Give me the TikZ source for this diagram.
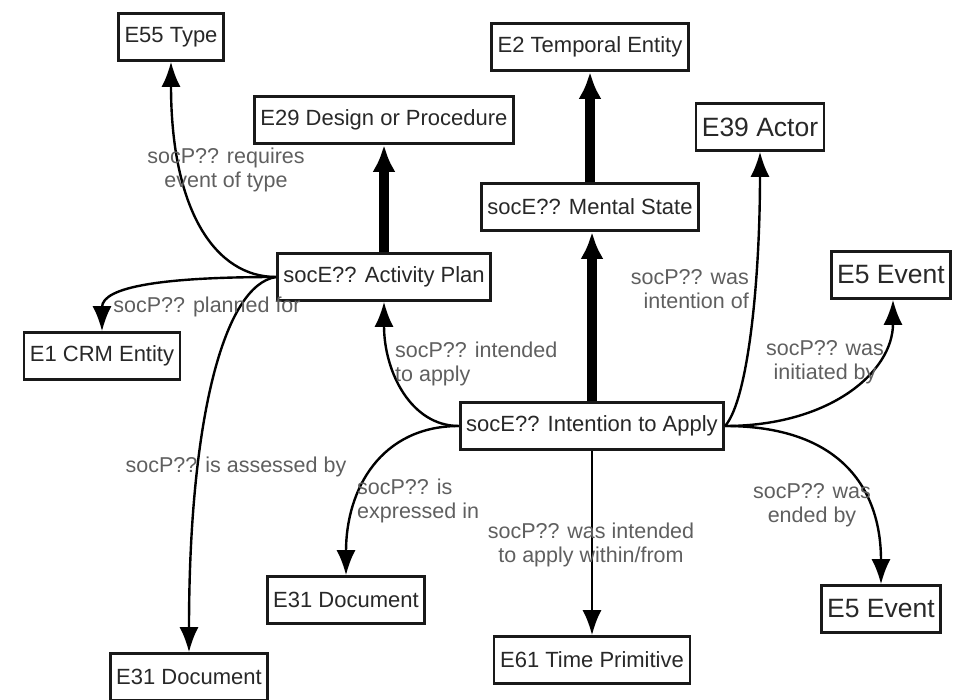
\documentclass[tikz,border=0pt]{standalone}
\usepackage{fontspec}
\setmainfont{Liberation Sans}
\usetikzlibrary{arrows.meta}
\definecolor{lbl}{RGB}{95,95,95}
\definecolor{ntxt}{RGB}{40,40,40}
\tikzset{
  ent/.style={draw=black!90, line width=2.6pt, fill=white, text=ntxt,
    minimum height=47pt, inner xsep=6pt, inner ysep=0pt,
    font=\fontsize{22}{24}\selectfont},
  bigent/.style={ent, font=\fontsize{26.5}{28}\selectfont},
  arr/.style={line width=2.4pt, -{Latex[length=25pt,width=19pt]}},
  isa/.style={line width=10pt, -{Latex[length=27pt,width=23pt]}},
  lab/.style={text=lbl, inner sep=0pt, font=\fontsize{21.5}{23.5}\selectfont},
}
\begin{document}
\begin{tikzpicture}[x=1pt,y=-1pt]
\useasboundingbox (0,0) rectangle (956,700);
% nodes
\node[ent] (e55) at (171,37) {E55 Type};
\node[ent] (e29) at (384,120) {E29 Design or Procedure};
\node[ent] (e2) at (590,47) {E2 Temporal Entity};
\node[bigent] (e39) at (760,127) {E39 Actor};
\node[ent] (ms) at (590,207) {socE?? Mental State};
\node[ent] (ap) at (384,277) {socE?? Activity Plan};
\node[bigent] (e5a) at (891,275) {E5 Event};
\node[ent] (e1) at (102,356) {E1 CRM Entity};
\node[ent] (ia) at (592,426) {socE?? Intention to Apply};
\node[ent] (d1) at (346,600) {E31 Document};
\node[ent] (d2) at (189,677) {E31 Document};
\node[ent] (e61) at (592,660) {E61 Time Primitive};
\node[bigent] (e5b) at (881,609) {E5 Event};
% isa arrows
\draw[isa] (ap.north) -- (e29.south);
\draw[isa] (ms.north) -- (e2.south);
\draw[isa] (ia.north) -- (ia.north |- ms.south);
% property arrows
\draw[arr] (ap.west) .. controls +(-60,0) and +(0,150) .. (e55.south);
\draw[arr] (ap.west) .. controls +(-110,0) and +(0,-45) .. (e1.north);
\draw[arr] (ap.west) .. controls +(-52,8) and +(0,-233) .. (d2.north);
\draw[arr] (ia.west) .. controls +(-48,0) and +(0,70) .. (ap.south);
\draw[arr] (ia.west) .. controls +(-78,0) and +(0,-86) .. (d1.north);
\draw[arr] (ia.south) -- (e61.north);
\draw[arr] (ia.east) .. controls +(23,-26) and +(0,129) .. (e39.south);
\draw[arr] (ia.east) .. controls +(105,0) and +(0,72) .. (e5a.south -| 893,0);
\draw[arr] (ia.east) .. controls +(115,0) and +(0,-96) .. (e5b.north);
% labels
\node[lab, align=center] (l1) at (226,170) {socP?? requires\\event of type};
\node[lab] (l2) at (207,307) {socP?? planned for};
\node[lab] (l3) at (236,467) {socP?? is assessed by};
\node[lab, align=left, anchor=west] (l4) at (395,364) {socP?? intended\\to apply};
\node[lab, align=left, anchor=west] (l5) at (357,501) {socP?? is\\expressed in};
\node[lab, align=center] (l6) at (591,545) {socP?? was intended\\to apply within/from};
\node[lab, align=right, anchor=east] (l7) at (749,289) {socP?? was\\intention of};
\node[lab, align=center] (l8) at (825,362) {socP?? was\\initiated by};
\node[lab, align=center] (l9) at (812,505) {socP?? was\\ended by};
\end{tikzpicture}
\end{document}
